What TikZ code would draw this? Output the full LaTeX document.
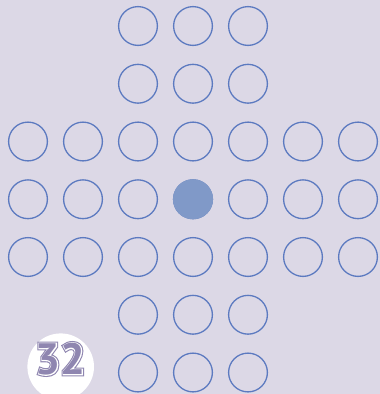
\documentclass[tikz,border=0pt]{standalone}
\usepackage{fontspec}
\newfontfamily\badgefont{PT Sans Bold}
\newfontfamily\badgefat[FakeBold=9]{PT Sans Bold}
\newfontfamily\badgemid[FakeBold=4]{PT Sans Bold}
\definecolor{boardbg}{RGB}{220,216,230}
\definecolor{holeline}{RGB}{92,122,192}
\definecolor{pegfill}{RGB}{128,153,200}
\definecolor{badgeink}{RGB}{143,134,176}
\tikzset{
  hole/.style={draw=holeline, line width=1.3pt, circle, inner sep=0pt, minimum size=38.8pt},
  peg/.style={hole, draw=pegfill, fill=pegfill},
  badge/.style={circle, fill=white, inner sep=0pt, minimum size=66.6pt},
  count/.style={inner sep=0pt, text=badgeink, font=\badgefont\fontsize{44}{44}\selectfont}
}
\begin{document}
\begin{tikzpicture}[x=1pt,y=-1pt]
\fill[boardbg] (0,0) rectangle (380,394);
\useasboundingbox (0,0) rectangle (380,394);
% arms of the cross
\foreach \r in {0,1,5,6}
  \foreach \c in {2,3,4}
    \node[hole] (h\c\r) at ({28+55*\c},{26+57.75*\r}) {};
% middle band
\foreach \r in {2,3,4}
  \foreach \c in {0,...,6}
    \node[hole] (h\c\r) at ({28+55*\c},{26+57.75*\r}) {};
\node[peg] (peg) at (h33) {};
% pegs left
\node[badge] (badge) at (60.7,366.7) {};
\node[count, font=\badgefat\fontsize{44}{44}\selectfont] (back) at (60.5,359) {32};
\node[count, text=white, font=\badgemid\fontsize{44}{44}\selectfont] (mid) at (back) {32};
\node[count] (front) at (back) {32};
\end{tikzpicture}
\end{document}
